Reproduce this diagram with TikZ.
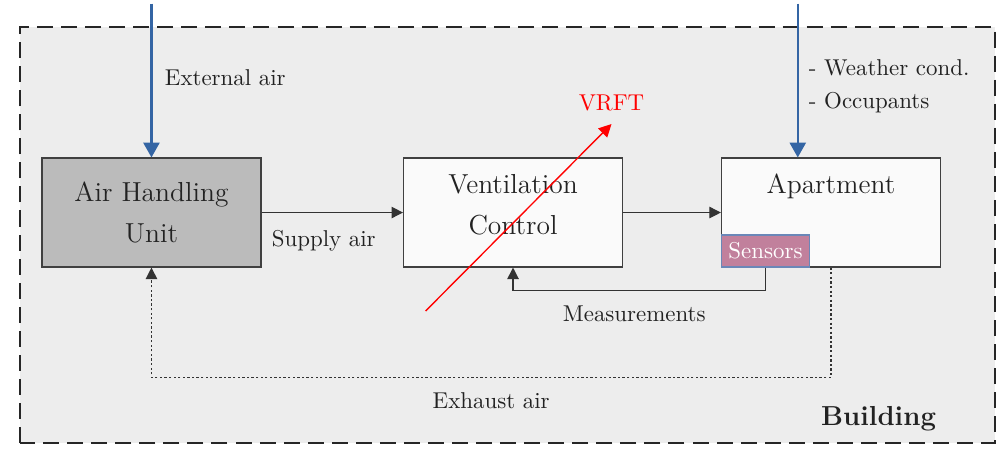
\documentclass[tikz,border=0pt]{standalone}
\usetikzlibrary{positioning,arrows.meta}
\definecolor{bldgray}{HTML}{EDEDED}
\definecolor{ahugray}{HTML}{BBBBBB}
\definecolor{boxwhite}{HTML}{FAFAFA}
\definecolor{flowblue}{HTML}{3465A4}
\definecolor{sensmauve}{HTML}{C1809C}
\definecolor{sensedge}{HTML}{6A87B8}
\definecolor{ink}{HTML}{222222}
\begin{document}
\begin{tikzpicture}[
    box/.style={draw=black!75,line width=0.5pt,fill=boxwhite,minimum width=3.36cm,minimum height=1.672cm,align=center,font=\large,text=ink},
    boxtext/.style={anchor=north,align=center,font=\large,text=ink},
    sensor/.style={draw=sensedge,line width=0.6pt,fill=sensmauve,text=white,minimum width=1.35cm,minimum height=0.49cm,inner sep=1pt},
    lbl/.style={text=ink},
    arr/.style={black!80,line width=0.5pt,-{Triangle[length=5pt,width=5pt]}},
    inflow/.style={flowblue,line width=1.1pt,-{Triangle[length=6.5pt,width=7pt]}},
    exhaust/.style={arr,dash pattern=on 1pt off 1pt}
  ]
  \useasboundingbox (0,0) rectangle (15.42,6.95);
  \draw[black!85,line width=0.9pt,fill=bldgray,dash pattern=on 7pt off 3.5pt] (0.307,0.153) rectangle (15.26,6.535);

  \node[box,fill=ahugray] (ahu) at (2.324,3.689) {Air Handling\\[4pt]Unit};
  \node[box,right=2.17cm of ahu] (vc) {};
  \node[boxtext] (vctxt) at ([yshift=-0.13cm]vc.north) {Ventilation\\[4pt]Control};
  \node[box,right=1.5cm of vc] (apt) {};
  \node[boxtext] (apttxt) at ([yshift=-0.13cm]apt.north) {Apartment};
  \node[sensor,anchor=south west] (sens) at (apt.south west) {Sensors};

  % air coming in from outside
  \coordinate (extin) at ([yshift=2.36cm]ahu.north);
  \coordinate (aptin) at ([xshift=1.18cm]apt.north west);
  \coordinate (wthin) at ([yshift=2.36cm]aptin);
  \draw[inflow] (extin) -- node[lbl,pos=0.48,right,xshift=2pt]{External air} (ahu.north);
  \draw[inflow] (wthin) -- node[lbl,pos=0.54,right,xshift=1pt,align=left]{- Weather cond.\\[2.4pt]- Occupants} (aptin);

  \draw[arr] (ahu.east) -- node[lbl,pos=0.44,below=4pt]{Supply air} (vc.west);
  \draw[arr] (vc.east) -- (apt.west);
  \draw[arr] (sens.south) -- ++(0,-0.353) -| node[lbl,pos=0.26,below=3pt]{Measurements} (vc.south);
  \draw[exhaust] (apt.south) -- ++(0,-1.687) -| node[lbl,pos=0.25,below=3pt]{Exhaust air} (ahu.south);

  % tuning
  \coordinate (vrft0) at ([xshift=-1.342cm,yshift=-1.511cm]vc.center);
  \coordinate (vrft1) at ([xshift=1.511cm,yshift=1.358cm]vc.center);
  \draw[red,line width=0.6pt,-{Triangle[length=5.5pt,width=5.5pt]}] (vrft0) -- (vrft1) node[above=2pt,text=red]{VRFT};

  \node[font=\large\bfseries,text=ink] (bldlbl) at (13.48,0.52) {Building};
\end{tikzpicture}
\end{document}
